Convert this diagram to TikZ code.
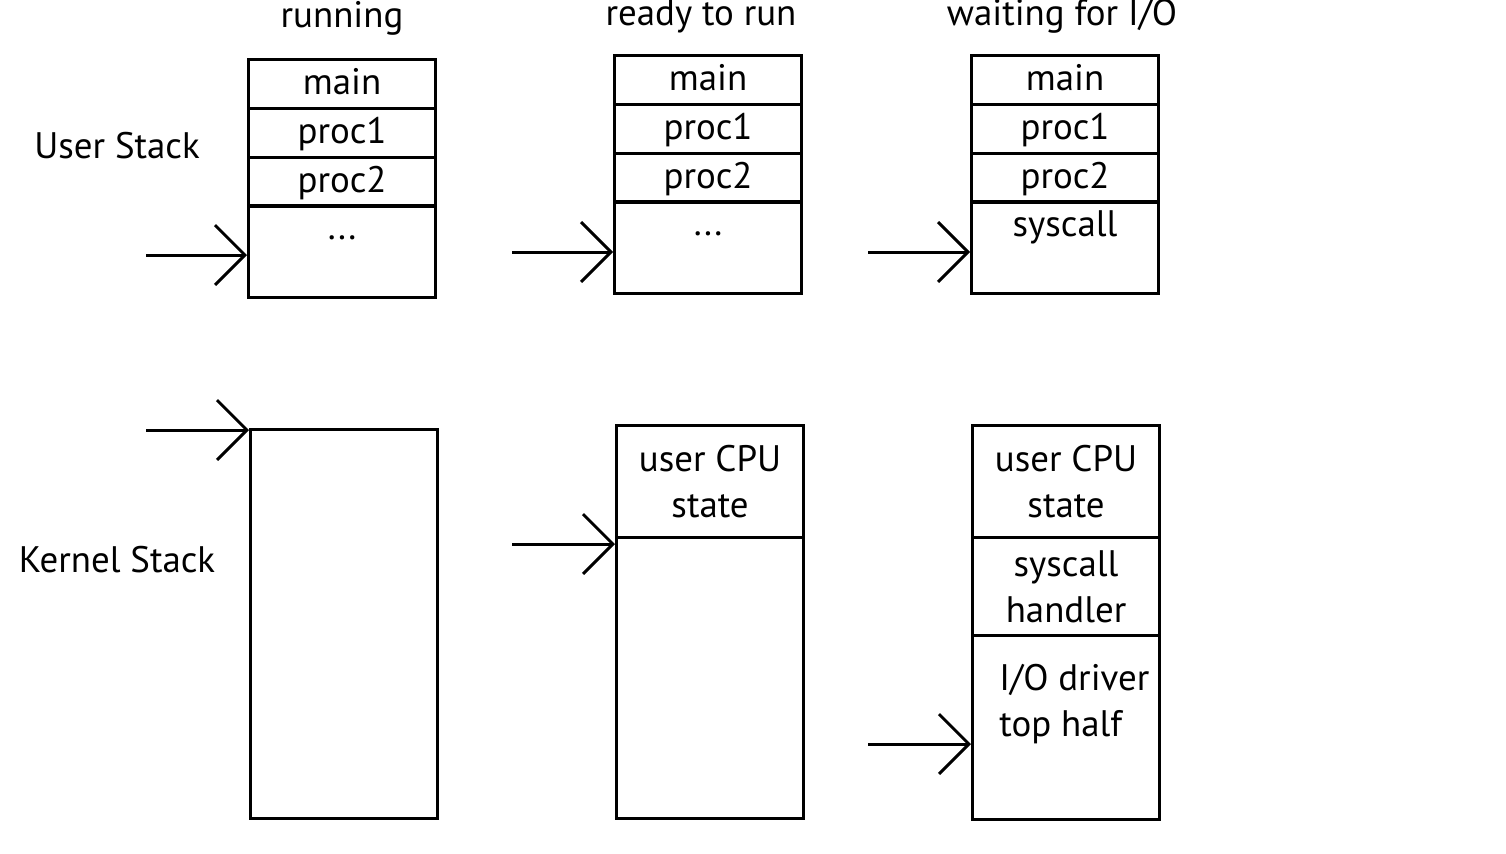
\documentclass[tikz,border=0pt]{standalone}
\usepackage{fontspec}
\setmainfont{PT Sans}
\usetikzlibrary{arrows.meta}

\tikzset{
  cell/.style={draw, line width=1.8pt, minimum width=3.74cm, inner sep=0pt,
    anchor=north west, align=center},
  slot/.style={draw, line width=1.8pt, minimum width=3.74cm, minimum height=0.98cm,
    inner sep=0pt, anchor=north west, text height=16pt, text depth=4pt},
  ptr/.style={line width=1.7pt,
    -{Straight Barb[length=17pt,width=34pt,line width=1.7pt]}},
  caption/.style={inner sep=0pt}
}

\begin{document}
\begin{tikzpicture}[x=0.02cm, y=-0.02cm, font=\fontsize{21}{26}\selectfont]
\useasboundingbox (0,0) rectangle (1506,853);

% column titles and row names
\node[caption, anchor=base] (tRun)   at (342,27)  {running};
\node[caption, anchor=base] (tReady) at (701,25)  {ready to run};
\node[caption, anchor=base] (tWait)  at (1062,25) {waiting for I/O};
\node[caption] (uName)  at (117,146) {User Stack};
\node[caption] (kName)  at (117,560) {Kernel Stack};

% running
\node[slot] (runMain) at (247,58)  {main};
\node[slot] (runP1)   at (247,107) {proc1};
\node[slot] (runP2)   at (247,156) {proc2};
\node[cell, minimum height=1.84cm,
  label={[anchor=north, inner sep=0pt, yshift=-18pt]north:...}] (runRest) at (247,204) {};
\node[cell, minimum height=7.78cm] (runK) at (249,428) {};

% ready to run
\node[slot] (readyMain) at (613,54)  {main};
\node[slot] (readyP1)   at (613,103) {proc1};
\node[slot] (readyP2)   at (613,152) {proc2};
\node[cell, minimum height=1.84cm,
  label={[anchor=north, inner sep=0pt, yshift=-18pt]north:...}] (readyRest) at (613,200) {};
\node[cell, minimum height=2.24cm] (readyCPU) at (615,424) {user CPU\\state};
\node[cell, minimum height=5.62cm] (readyK)   at (615,536) {};

% waiting for I/O
\node[slot] (waitMain) at (970,54)  {main};
\node[slot] (waitP1)   at (970,103) {proc1};
\node[slot] (waitP2)   at (970,152) {proc2};
\node[cell, minimum height=1.84cm,
  label={[anchor=north, inner sep=0pt, yshift=-6pt]north:syscall}] (waitRest) at (970,200) {};
\node[cell, minimum height=2.24cm] (waitCPU) at (971,424) {user CPU\\state};
\node[cell, minimum height=1.96cm] (waitSys) at (971,536) {syscall\\handler};
\node[cell, minimum height=3.68cm,
  label={[anchor=north west, align=left, inner sep=0pt, xshift=16pt, yshift=-17pt]north west:I/O driver\\top half}] (waitIO) at (971,634) {};

% stack pointers
\coordinate (runUp)   at (146,255);
\coordinate (runKp)   at (146,430);
\coordinate (readyUp) at (512,252);
\coordinate (readyKp) at (512,544);
\coordinate (waitUp)  at (868,252);
\coordinate (waitKp)  at (868,744);
\draw[ptr] (runUp)   -- (runUp -| runRest.west);
\draw[ptr] (runKp)   -- (runKp -| runK.west);
\draw[ptr] (readyUp) -- (readyUp -| readyRest.west);
\draw[ptr] (readyKp) -- (readyKp -| readyK.west);
\draw[ptr] (waitUp)  -- (waitUp -| waitRest.west);
\draw[ptr] (waitKp)  -- (waitKp -| waitIO.west);
\end{tikzpicture}
\end{document}
